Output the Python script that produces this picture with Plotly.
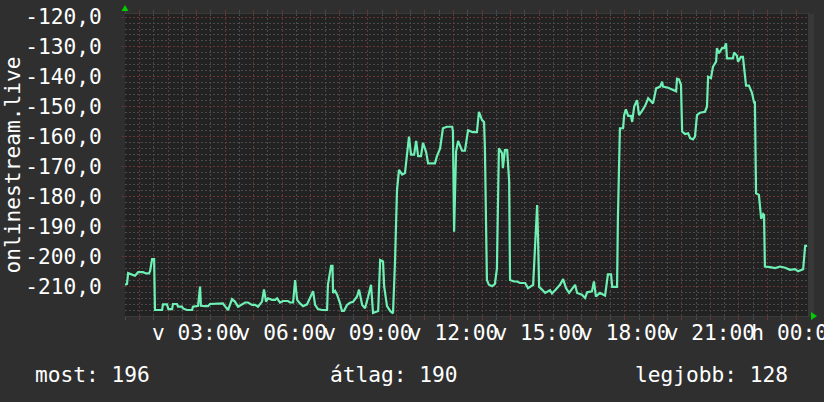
import plotly.graph_objects as go

# ---- data (hours since Sunday 00:00, value) ----
hours = [0.49, 0.56, 0.60, 0.74, 0.84, 0.95, 1.12, 1.23, 1.33, 1.37, 1.44, 1.51, 1.54, 1.79, 1.82, 1.96,
         2.01, 2.14, 2.17, 2.31, 2.35, 2.49, 2.52, 2.66, 2.84, 2.87, 3.05, 3.12, 3.15, 3.29, 3.40, 3.47,
         3.64, 3.71, 3.92, 3.99, 4.10, 4.24, 4.34, 4.45, 4.56, 4.70, 4.80, 4.94, 5.05, 5.15, 5.29, 5.36,
         5.43, 5.50, 5.64, 5.75, 5.82, 5.92, 6.03, 6.20, 6.27, 6.38, 6.45, 6.52, 6.62, 6.73, 6.87, 6.97,
         7.08, 7.15, 7.25, 7.39, 7.57, 7.60, 7.71, 7.76, 7.78, 7.85, 7.92, 8.02, 8.09, 8.16, 8.27, 8.37,
         8.48, 8.62, 8.69, 8.80, 8.90, 9.01, 9.11, 9.18, 9.36, 9.43, 9.53, 9.57, 9.67, 9.78, 9.88, 9.95,
         10.02, 10.09, 10.20, 10.30, 10.37, 10.44, 10.51, 10.62, 10.69, 10.76, 10.86, 10.93, 11.04, 11.11,
         11.35, 11.42, 11.53, 11.63, 11.77, 11.95, 11.98, 12.02, 12.09, 12.16, 12.30, 12.40, 12.51, 12.68,
         12.82, 12.89, 13.00, 13.07, 13.10, 13.17, 13.24, 13.35, 13.45, 13.52, 13.59, 13.70, 13.73, 13.80,
         13.88, 13.95, 13.98, 14.12, 14.23, 14.33, 14.51, 14.61, 14.79, 14.86, 14.93, 14.96, 15.00, 15.10,
         15.21, 15.38, 15.45, 15.56, 15.73, 15.84, 15.94, 16.05, 16.26, 16.33, 16.50, 16.61, 16.68, 16.85,
         16.92, 16.99, 17.13, 17.31, 17.41, 17.52, 17.56, 17.73, 17.76, 17.83, 17.94, 17.98, 18.04, 18.12,
         18.22, 18.26, 18.33, 18.43, 18.50, 18.61, 18.71, 18.82, 18.92, 18.99, 19.10, 19.24, 19.31, 19.34,
         19.52, 19.69, 19.80, 19.83, 19.90, 19.97, 20.01, 20.11, 20.22, 20.29, 20.39, 20.46, 20.53, 20.64,
         20.81, 20.88, 20.92, 21.02, 21.09, 21.20, 21.23, 21.30, 21.41, 21.48, 21.55, 21.58, 21.79, 21.83,
         21.93, 21.97, 22.07, 22.14, 22.25, 22.35, 22.46, 22.53, 22.56, 22.60, 22.70, 22.78, 22.85, 22.88,
         22.91, 23.09, 23.27, 23.44, 23.62, 23.79, 23.97, 24.07, 24.25, 24.32, 24.39]
values = [-209.3, -209.0, -205.4, -205.8, -206.3, -205.1, -205.1, -205.5, -205.5, -204.7, -200.7, -200.7,
          -217.7, -217.7, -215.8, -215.8, -217.4, -217.4, -215.7, -215.7, -216.6, -216.6, -217.2, -217.7,
          -217.7, -216.6, -216.3, -209.9, -216.3, -216.4, -216.4, -215.7, -215.7, -215.5, -215.5, -216.4,
          -217.7, -214.1, -214.9, -216.6, -216.0, -215.2, -215.2, -216.0, -216.0, -216.6, -214.9, -210.8,
          -214.9, -213.8, -214.3, -214.3, -213.8, -215.2, -214.7, -214.7, -215.2, -215.2, -207.7, -214.3,
          -215.5, -216.4, -215.8, -213.8, -211.4, -216.0, -217.4, -217.7, -217.7, -209.3, -203.0, -203.0,
          -212.0, -211.3, -212.6, -215.3, -218.0, -218.0, -216.0, -215.3, -215.0, -213.2, -210.9, -216.0,
          -217.1, -213.2, -209.3, -218.7, -218.0, -201.0, -201.5, -209.8, -216.4, -218.0, -218.8, -201.7,
          -177.7, -171.0, -172.5, -172.0, -165.4, -159.9, -165.9, -165.9, -161.3, -166.4, -166.4, -162.0,
          -165.0, -168.8, -168.8, -166.4, -163.8, -157.1, -156.6, -156.6, -158.0, -191.6, -164.9, -161.3,
          -164.6, -164.6, -157.8, -158.4, -158.4, -151.6, -154.4, -155.0, -163.8, -207.7, -209.3, -209.8,
          -209.0, -204.0, -163.8, -165.4, -170.4, -164.4, -164.4, -174.9, -207.7, -208.2, -208.2, -208.7,
          -208.7, -210.4, -209.3, -193.2, -182.7, -193.2, -210.0, -210.9, -212.0, -211.1, -212.2, -211.1,
          -209.3, -207.4, -210.4, -212.0, -209.3, -212.0, -212.6, -213.7, -211.8, -211.5, -208.2, -213.2,
          -212.0, -212.9, -205.8, -205.8, -210.0, -210.0, -187.0, -157.1, -157.1, -152.7, -150.8, -153.0,
          -153.0, -155.0, -149.9, -147.7, -152.7, -151.2, -149.7, -147.1, -148.2, -148.8, -143.8, -143.2,
          -141.6, -143.2, -143.6, -144.2, -144.8, -140.6, -140.8, -142.6, -158.2, -159.0, -158.8, -160.4,
          -160.8, -159.9, -152.7, -151.9, -151.6, -149.9, -139.9, -140.4, -136.6, -134.9, -130.4, -132.1,
          -130.4, -130.4, -128.8, -133.8, -133.8, -131.8, -132.9, -134.9, -133.3, -133.3, -142.9, -142.9,
          -145.4, -148.5, -148.5, -178.8, -179.3, -187.3, -185.7, -186.0, -203.2, -203.4, -203.7, -203.2,
          -203.6, -204.3, -204.1, -204.8, -204.1, -196.3, -196.3]

x_tick_vals = list(range(1, 25))
x_tick_text = ["", "", "v 03:00", "", "", "v 06:00", "", "", "v 09:00", "", "", "v 12:00",
               "", "", "v 15:00", "", "", "v 18:00", "", "", "v 21:00", "", "", "h 00:00"]
y_tick_vals = [-210, -200, -190, -180, -170, -160, -150, -140, -130, -120]
y_tick_text = ["-210,0", "-200,0", "-190,0", "-180,0", "-170,0", "-160,0", "-150,0", "-140,0", "-130,0", "-120,0"]
series_name = "onlinestream.live"
stats = [("most", 196), ("átlag", 190), ("legjobb", 128)]

FONT = "DejaVu Sans Mono"
FS = 21.2
MAJOR = "#6a3535"
MINOR = "#4a4a4a"

fig = go.Figure()
fig.add_trace(go.Scatter(x=hours, y=values, mode="lines",
                         line=dict(color="#6ef0b4", width=2.2), hoverinfo="skip"))

fig.update_layout(
    width=824, height=402,
    margin=dict(l=125, r=14, t=14, b=86, autoexpand=False),
    paper_bgcolor="#2f2f2f", plot_bgcolor="#222222",
    showlegend=False,
    font=dict(family=FONT, size=FS, color="#ffffff"),
)
fig.update_xaxes(
    range=[0.49, 24.49], tickmode="array", tickvals=x_tick_vals, ticktext=x_tick_text,
    tickangle=0, automargin=False, ticklabeloverflow="allow",
    showgrid=True, gridcolor=MAJOR, griddash="2px,2px", gridwidth=1,
    ticks="outside", ticklen=3, tickcolor=MAJOR, mirror="ticks",
    showline=True, linecolor="#3a3a3a", zeroline=False, ticklabelstandoff=-5,
    tickfont=dict(family=FONT, size=FS, color="#ffffff"),
    minor=dict(tick0=0.5, dtick=1, showgrid=True, gridcolor=MINOR, griddash="2px,2px",
               ticks="outside", ticklen=3, tickcolor=MINOR),
    fixedrange=True,
)
fig.update_yaxes(
    range=[-219.7, -119], tickmode="array", tickvals=y_tick_vals, ticktext=y_tick_text,
    automargin=False,
    showgrid=True, gridcolor=MAJOR, griddash="2px,2px", gridwidth=1,
    ticks="outside", ticklen=2, tickcolor=MAJOR,
    showline=False, zeroline=False, ticklabelstandoff=16,
    tickfont=dict(family=FONT, size=FS, color="#ffffff"),
    title=dict(text=series_name, font=dict(family=FONT, size=FS, color="#ffffff"), standoff=10),
    minor=dict(dtick=2, showgrid=True, gridcolor=MINOR, griddash="2px,2px"),
    fixedrange=True,
)

# stats line under chart
positions = [(-0.1343, "left"), (0.2964, "left"), (0.9708, "right")]
for (label, val), (px, anchor) in zip(stats, positions):
    fig.add_annotation(text=f"{label}: {val}", x=px, y=-0.195, xref="paper", yref="paper",
                       xanchor=anchor, yanchor="middle", showarrow=False,
                       font=dict(family=FONT, size=FS, color="#ffffff"))

# right edge strip
fig.add_shape(type="rect", xref="paper", yref="paper", x0=0.997, x1=1.006, y0=0, y1=1,
              fillcolor="#383838", line=dict(width=0), layer="above")
# axis arrows
fig.add_shape(type="path", xref="paper", yref="paper",
              path="M -0.0051 1.0099 L 0.0051 1.0099 L 0 1.0298 Z",
              fillcolor="#00cc00", line=dict(width=0))
fig.add_shape(type="path", xref="paper", yref="paper",
              path="M 1.0015 0.0132 L 1.0015 -0.0132 L 1.0102 0 Z",
              fillcolor="#00cc00", line=dict(width=0))

fig.write_html("out.html", config={"displayModeBar": False},
               post_script="document.body.style.margin='0';document.body.style.background='#2f2f2f';")
